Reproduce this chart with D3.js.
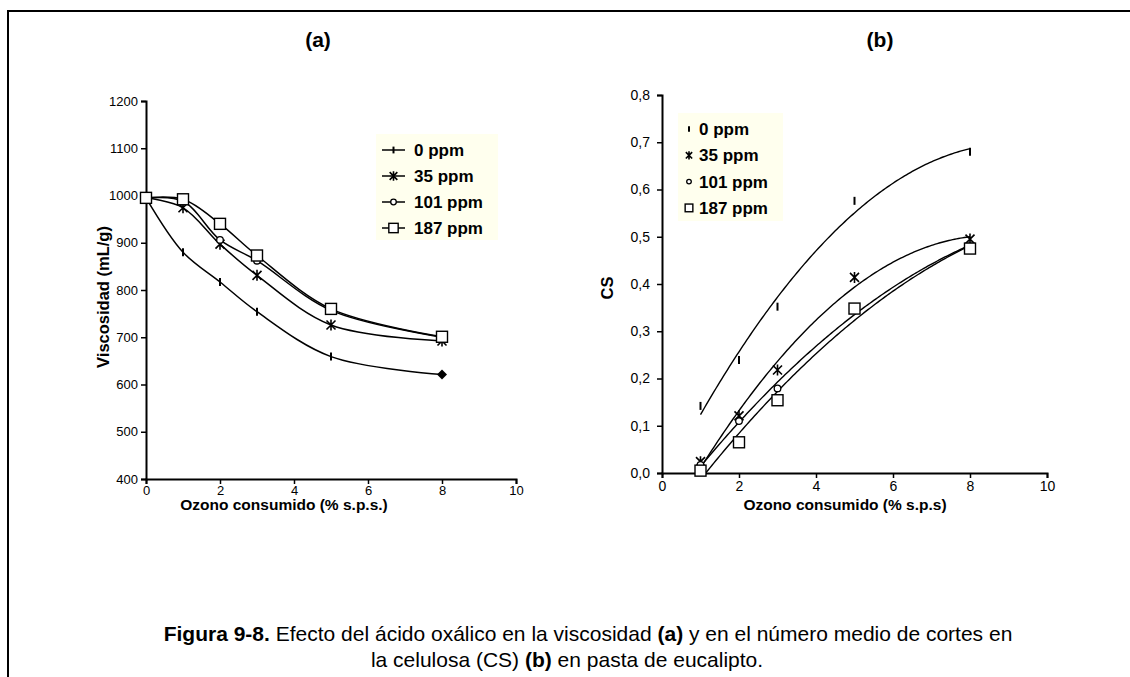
<!DOCTYPE html>
<html><head><meta charset="utf-8">
<script src="https://cdn.jsdelivr.net/npm/d3@7"></script>
<style>
html,body{margin:0;padding:0;background:#fff;}
svg{display:block;font-family:Arial,"Liberation Sans",sans-serif;}
</style></head>
<body>
<svg id="c" width="1130" height="677"></svg>
<script>
// ---------- DATA ----------
const ozono = [0, 1, 2, 3, 5, 8];
const visc0   = [995, 880, 817, 754, 659, 621];
const visc35  = [995, 974, 897, 831, 726, 692];
const visc101 = [995, 988, 906, 862, 757, 700];
const visc187 = [995, 992, 940, 873, 760, 701];

const ozonoB = [1, 2, 3, 5, 8];
const cs0   = [0.142, 0.239, 0.352, 0.576, 0.680];
const cs35  = [0.024, 0.121, 0.218, 0.414, 0.495];
const cs101 = [0.017, 0.110, 0.179, 0.345, 0.480];
const cs187 = [0.005, 0.065, 0.154, 0.348, 0.475];

const seriesNames = ["0 ppm", "35 ppm", "101 ppm", "187 ppm"];
const xTicks = [0, 2, 4, 6, 8, 10];
const yTicksA = [400, 500, 600, 700, 800, 900, 1000, 1100, 1200];
const yTicksB = [0, 0.1, 0.2, 0.3, 0.4, 0.5, 0.6, 0.7, 0.8];

const svg = d3.select("#c");

// frame
svg.append("path").attr("d", "M8,680 L8,11 L1135,11")
  .attr("fill", "none").attr("stroke", "#000").attr("stroke-width", 2);

// ---------- marker drawing ----------
function marker(g, type, x, y, sc) {
  sc = sc || 1;
  if (type === "bar") {
    g.append("line").attr("x1", x).attr("x2", x).attr("y1", y - 4 * sc).attr("y2", y + 4 * sc)
      .attr("stroke", "#000").attr("stroke-width", 2);
  } else if (type === "star") {
    const r = 4.5 * sc;
    g.append("path").attr("d", `M${x - r},${y - r}L${x + r},${y + r}M${x - r},${y + r}L${x + r},${y - r}M${x},${y - r - 1}L${x},${y + r + 1}`)
      .attr("stroke", "#000").attr("stroke-width", 1.6).attr("fill", "none");
  } else if (type === "circle") {
    g.append("circle").attr("cx", x).attr("cy", y).attr("r", 3.3 * sc)
      .attr("fill", "#fff").attr("stroke", "#000").attr("stroke-width", 1.3);
  } else if (type === "square") {
    const h = 5.5 * sc;
    g.append("rect").attr("x", x - h).attr("y", y - h).attr("width", 2 * h).attr("height", 2 * h)
      .attr("fill", "#fff").attr("stroke", "#000").attr("stroke-width", 1.4);
  } else if (type === "diamond") {
    g.append("path").attr("d", `M${x},${y - 5}L${x + 5},${y}L${x},${y + 5}L${x - 5},${y}Z`).attr("fill", "#000");
  }
}
const types = ["bar", "star", "circle", "square"];

// ---------- axes helper ----------
function drawAxes(x, y, yTicks, yFmt, fs, xPad, yPad) {
  const gx = svg.append("g").attr("transform", `translate(0,${y.range()[0]})`)
    .call(d3.axisBottom(x).tickValues(xTicks).tickSize(5).tickPadding(xPad).tickFormat(d3.format("d")));
  const gy = svg.append("g").attr("transform", `translate(${x.range()[0]},0)`)
    .call(d3.axisLeft(y).tickValues(yTicks).tickSize(5).tickPadding(yPad).tickFormat(yFmt));
  [gx, gy].forEach(g => {
    g.select(".domain").attr("stroke", "#000").attr("stroke-width", 2);
    g.selectAll(".tick line").attr("stroke", "#000").attr("stroke-width", 1.5);
    g.selectAll(".tick text").attr("fill", "#000").attr("font-size", fs)
      .attr("font-family", "Arial, 'Liberation Sans', sans-serif");
  });
}

// ================= CHART (a) =================
const xA = d3.scaleLinear().domain([0, 10]).range([146, 516]);
const yA = d3.scaleLinear().domain([400, 1200]).range([479, 101]);
drawAxes(xA, yA, yTicksA, d3.format("d"), 13, 2, 3);

const visc = [visc0, visc35, visc101, visc187];
const lineA = d3.line().x((d, i) => xA(ozono[i])).y(d => yA(d)).curve(d3.curveCatmullRom.alpha(0.5));
const gA = svg.append("g");
visc.forEach(ser => {
  gA.append("path").attr("d", lineA(ser)).attr("fill", "none").attr("stroke", "#000").attr("stroke-width", 1.5);
});
visc.forEach((ser, k) => {
  ser.forEach((v, i) => {
    let t = types[k];
    if (k === 0 && i === ser.length - 1) t = "diamond";
    marker(gA, t, xA(ozono[i]), yA(v));
  });
});

// legend (a)
const legA = svg.append("g");
legA.append("rect").attr("x", 376).attr("y", 134).attr("width", 122).attr("height", 106).attr("fill", "#FFFFEE");
seriesNames.forEach((n, k) => {
  const cy = 150 + k * 26;
  legA.append("line").attr("x1", 382).attr("x2", 405).attr("y1", cy).attr("y2", cy).attr("stroke", "#000").attr("stroke-width", 1.5);
  marker(legA, types[k], 393.5, cy, 0.85);
  legA.append("text").attr("x", 414).attr("y", cy + 6).attr("font-size", 17).attr("font-weight", "bold").text(n);
});

svg.append("text").attr("x", 318).attr("y", 47).attr("text-anchor", "middle")
  .attr("font-size", 21).attr("font-weight", "bold").text("(a)");
svg.append("text").attr("x", 284).attr("y", 510).attr("text-anchor", "middle")
  .attr("font-size", 15.5).attr("font-weight", "bold").text("Ozono consumido (% s.p.s.)");
svg.append("text").attr("transform", "translate(109,297) rotate(-90)").attr("text-anchor", "middle")
  .attr("font-size", 16.5).attr("font-weight", "bold").text("Viscosidad (mL/g)");

// ================= CHART (b) =================
const xB = d3.scaleLinear().domain([0, 10]).range([662, 1047]);
const yB = d3.scaleLinear().domain([0, 0.8]).range([473, 95]);
drawAxes(xB, yB, yTicksB, v => d3.format(".1f")(v).replace(".", ","), 14, 3, 7);

// polynomial (order 2) trend lines, least squares like the spreadsheet trendline
function quadFit(xs, ys) {
  let S = [0, 0, 0, 0, 0], T = [0, 0, 0];
  xs.forEach((x, i) => {
    for (let p = 0; p < 5; p++) S[p] += Math.pow(x, p);
    for (let p = 0; p < 3; p++) T[p] += Math.pow(x, p) * ys[i];
  });
  const M = [[S[0], S[1], S[2], T[0]], [S[1], S[2], S[3], T[1]], [S[2], S[3], S[4], T[2]]];
  for (let i = 0; i < 3; i++) {
    for (let j = i + 1; j < 3; j++) {
      const f = M[j][i] / M[i][i];
      for (let k = i; k < 4; k++) M[j][k] -= f * M[i][k];
    }
  }
  const c = [0, 0, 0];
  for (let i = 2; i >= 0; i--) {
    let s = M[i][3];
    for (let k = i + 1; k < 3; k++) s -= M[i][k] * c[k];
    c[i] = s / M[i][i];
  }
  return x => c[0] + c[1] * x + c[2] * x * x;
}

svg.append("clipPath").attr("id", "clipB").append("rect")
  .attr("x", 662).attr("y", 95).attr("width", 385).attr("height", 378);
const gB = svg.append("g");
const cs = [cs0, cs35, cs101, cs187];
const xmin = d3.min(ozonoB), xmax = d3.max(ozonoB);
const samples = d3.range(0, 141).map(i => xmin + (xmax - xmin) * i / 140);
cs.forEach(ser => {
  const f = quadFit(ozonoB, ser);
  const ln = d3.line().x(d => xB(d)).y(d => yB(f(d)));
  gB.append("path").attr("d", ln(samples)).attr("clip-path", "url(#clipB)")
    .attr("fill", "none").attr("stroke", "#000").attr("stroke-width", 1.4);
});
cs.forEach((ser, k) => {
  ser.forEach((v, i) => marker(gB, types[k], xB(ozonoB[i]), yB(v)));
});

const legB = svg.append("g");
legB.append("rect").attr("x", 678).attr("y", 113).attr("width", 105).attr("height", 108).attr("fill", "#FFFFEE");
seriesNames.forEach((n, k) => {
  const cy = 129 + k * 26.3;
  marker(legB, types[k], 689, cy, 0.7);
  legB.append("text").attr("x", 699).attr("y", cy + 6).attr("font-size", 17).attr("font-weight", "bold").text(n);
});

svg.append("text").attr("x", 880).attr("y", 47).attr("text-anchor", "middle")
  .attr("font-size", 21).attr("font-weight", "bold").text("(b)");
svg.append("text").attr("x", 845).attr("y", 510).attr("text-anchor", "middle")
  .attr("font-size", 15.5).attr("font-weight", "bold").text("Ozono consumido (% s.p.s)");
svg.append("text").attr("transform", "translate(613,288) rotate(-90)").attr("text-anchor", "middle")
  .attr("font-size", 16.5).attr("font-weight", "bold").text("CS");

// ================= CAPTION =================
const cap1 = svg.append("text").attr("x", 588).attr("y", 641).attr("text-anchor", "middle").attr("font-size", 21);
cap1.append("tspan").attr("font-weight", "bold").text("Figura 9-8.");
cap1.append("tspan").text(" Efecto del ácido oxálico en la viscosidad ");
cap1.append("tspan").attr("font-weight", "bold").text("(a)");
cap1.append("tspan").text(" y en el número medio de cortes en");
const cap2 = svg.append("text").attr("x", 567).attr("y", 667).attr("text-anchor", "middle").attr("font-size", 21);
cap2.append("tspan").text("la celulosa (CS) ");
cap2.append("tspan").attr("font-weight", "bold").text("(b)");
cap2.append("tspan").text(" en pasta de eucalipto.");
</script>
</body></html>
